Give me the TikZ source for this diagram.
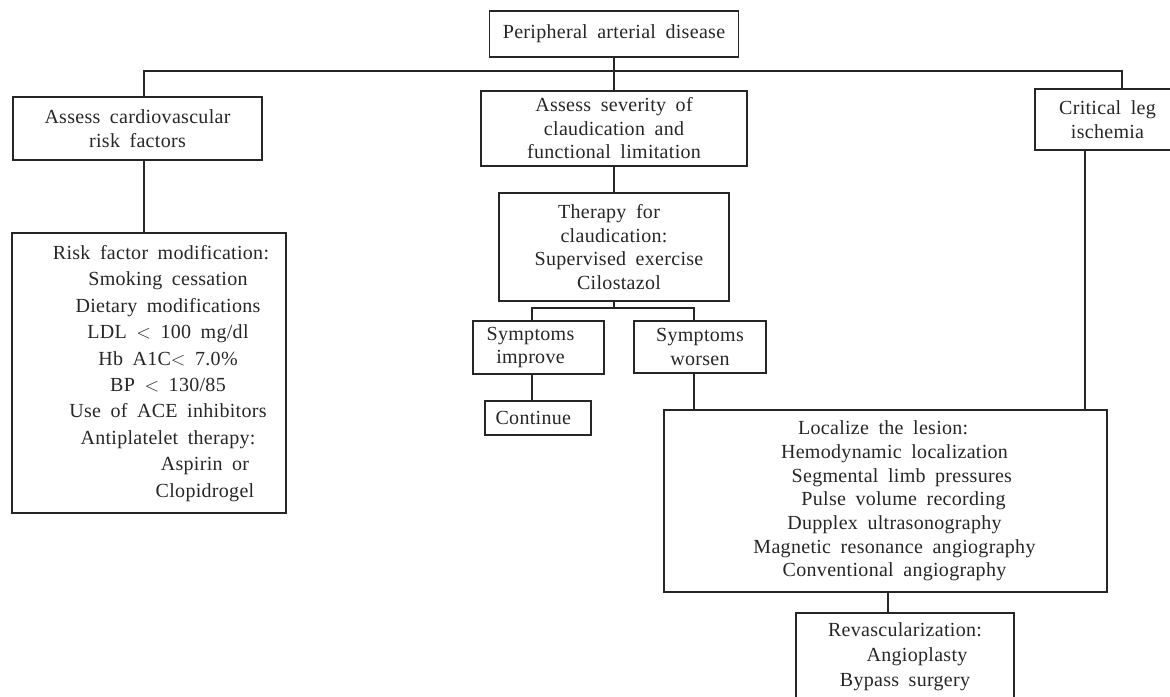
\documentclass[tikz,border=0pt]{standalone}
\usepackage{fontspec}
\setmainfont[LetterSpace=1.5,WordSpace=1.8]{Liberation Serif}
\tikzset{
  box/.style 2 args={draw,rectangle,align=center,inner sep=2pt,
    minimum width=#1*0.75pt,minimum height=#2*0.75pt},
}
\begin{document}
\begin{tikzpicture}[x=0.75pt,y=-0.75pt,line width=.9pt,color=black!85,
  font=\fontsize{15}{17.6}\selectfont]
  \useasboundingbox (0,0) rectangle (1170,696);
  \node[box={249}{46}] (root) at (614,34) {Peripheral arterial disease};
  \node[box={249}{63}] (cvrisk) at (137.5,128.5) {Assess cardiovascular\\risk factors};
  \node[box={266}{75}] (severity) at (614,128.5) {Assess severity of\\claudication and\\functional limitation};
  \node[box={145}{61}] (critical) at (1107.5,119.5) {Critical leg\\ischemia};
  \node[box={274}{280},font=\fontsize{15}{19.8}\selectfont] (riskmod) at (149,373)
    {\hspace*{28.5pt}\begin{tabular}{@{}c@{}}
      Risk factor modification:\hspace*{10.5pt}\\
      Smoking cessation\\
      Dietary modifications\\
      LDL $<$ 100 mg/dl\\
      Hb A1C$<$ 7.0\%\\
      BP $<$ 130/85\\
      Use of ACE inhibitors\\
      Antiplatelet therapy:\\
      \hspace*{55.5pt}Aspirin or\\
      \hspace*{55.5pt}Clopidrogel
    \end{tabular}};
  \node[box={230}{108}] (therapy) at (614,247)
    {Therapy for\hspace*{7.5pt}\\claudication:\hspace*{7.5pt}\\
     \hspace*{7.5pt}Supervised exercise\\\hspace*{7.5pt}Cilostazol};
  \node[box={131}{53}] (improve) at (538.5,347.5)
    {\begin{tabular}{@{}c@{}}Symptoms\\improve\end{tabular}\hspace*{12pt}};
  \node[box={132}{52}] (worsen) at (700,347) {Symptoms\\worsen};
  \node[box={106}{34}] (cont) at (538,418) {Continue\hspace*{7pt}};
  \node[box={443}{182},font=\fontsize{15}{17.8}\selectfont] (localize) at (885.5,501)
    {\hspace*{13.5pt}\begin{tabular}{@{}c@{}}
      Localize the lesion:\hspace*{17pt}\\
      Hemodynamic localization\\
      \hspace*{11pt}Segmental limb pressures\\
      \hspace*{13.5pt}Pulse volume recording\\
      Dupplex ultrasonography\\
      Magnetic resonance angiography\\
      Conventional angiography
    \end{tabular}};
  \node[box={218}{88},font=\fontsize{15}{18.75}\selectfont] (revasc) at (905,657)
    {Revascularization:\\\hspace*{18pt}Angioplasty\\Bypass surgery};
  \coordinate (busl) at (144,71);
  \coordinate (busr) at (1122,71);
  \coordinate (forkl) at (532,308);
  \coordinate (forkr) at (694,308);
  \coordinate (leg) at (1085,150);
  \coordinate (revl) at (888,600);
  \draw (root.south) -- (severity.north);
  \draw (cvrisk.north -| busl) -- (busl) -- (busr) -- (critical.north -| busr);
  \draw (cvrisk.south -| busl) -- (riskmod.north -| busl);
  \draw (severity.south) -- (therapy.north);
  \draw (therapy.south) -- (therapy.south |- forkl);
  \draw (improve.north -| forkl) -- (forkl) -- (forkr) -- (worsen.north -| forkr);
  \draw (improve.south -| forkl) -- (cont.north -| forkl);
  \draw (worsen.south -| forkr) -- (localize.north -| forkr);
  \draw (critical.south -| leg) -- (localize.north -| leg);
  \draw (localize.south -| revl) -- (revasc.north -| revl);
\end{tikzpicture}
\end{document}
